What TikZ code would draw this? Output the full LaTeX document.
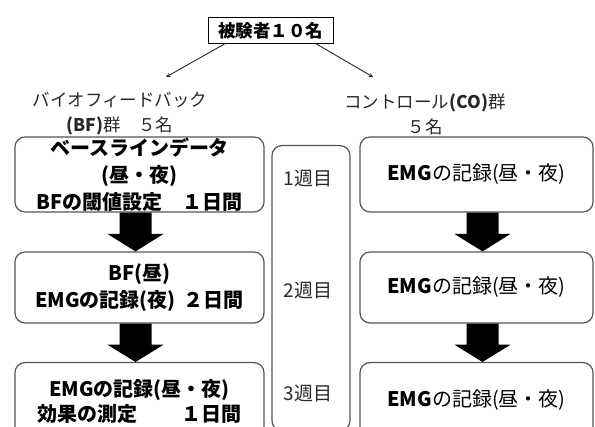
\documentclass[tikz,border=0pt]{standalone}
\usepackage{fontspec}
\setmainfont{Noto Sans CJK JP}
\usetikzlibrary{calc}
\definecolor{edge}{RGB}{85,85,85}
\definecolor{txt}{RGB}{40,40,40}
\tikzset{
  flowbox/.style={draw=edge, line width=1.2pt, rounded corners=10pt, align=center,
    inner sep=0pt, font=\fontsize{20}{27}\selectfont\bfseries, text=black},
  cobox/.style={draw=edge, line width=1.2pt, rounded corners=10pt, align=center,
    inner sep=0pt, font=\fontsize{20}{27}\selectfont, text=black},
  weekbox/.style={draw=edge, line width=1.2pt, rounded corners=10pt, inner sep=0pt},
  lbl/.style={font=\fontsize{17.5}{26}\selectfont, text=txt, align=center, inner sep=0pt},
  wk/.style={font=\fontsize{19}{22}\selectfont, text=txt, inner sep=0pt},
  topbox/.style={draw=black, line width=1pt, inner sep=0pt, minimum width=125pt, minimum height=26pt,
    font=\fontsize{17.5}{20}\selectfont\bfseries},
  thin/.style={-stealth, draw=txt, line width=0.9pt},
  blockarrow/.style={fill=black, draw=none}
}
\begin{document}
\begin{tikzpicture}[x=1pt,y=-1pt]
\useasboundingbox (0,0) rectangle (595,427);
\node[topbox] (top) at (270.5,30.5) {被験者１０名};
\coordinate (la) at (166,77);
\coordinate (ra) at (373,77);
\draw[thin] (top.south west)++(17,0) coordinate (tl) -- (la);
\draw[thin] (top.south east)++(-17,0) coordinate (tr) -- (ra);
\node[lbl] (bflbl) at (120,114) {バイオフィードバック\\[-1pt]\textbf{(BF)}群　５名};
\node[lbl] (colbl) at (425,114) {コントロール\textbf{(CO)}群\\[-1pt]５名};

% left column
\node[flowbox, minimum width=249pt, minimum height=75pt] (b1) at (139.5,174.5)
  {ベースラインデータ\\(昼・夜)\\BFの閾値設定　１日間};
\node[flowbox, minimum width=249pt, minimum height=71pt] (b2) at (139.5,287.5)
  {BF(昼)\\EMGの記録(夜)\hspace{0.4em}２日間};
\node[flowbox, minimum width=249pt, minimum height=80pt, anchor=north] (b3) at (139.5,362)
  {};
\node[font=\fontsize{20}{25}\selectfont\bfseries, align=center, inner sep=0pt] (b3t) at (139.5,401)
  {EMGの記録(昼・夜)\\効果の測定\hspace{2.2em}１日間};

% week column
\node[weekbox, minimum width=78pt, minimum height=285pt, anchor=north] (wk) at (311,145) {};
\node[wk] (w1) at (308,178) {1週目};
\node[wk] (w2) at (308,290) {2週目};
\node[wk] (w3) at (308,393) {3週目};

% right column
\node[cobox, minimum width=233pt, minimum height=75pt] (c1) at (476.5,174.5)
  {\raisebox{-8pt}{\textbf{EMG}の記録(昼・夜)}};
\node[cobox, minimum width=233pt, minimum height=71pt] (c2) at (476.5,287.5)
  {\raisebox{-2pt}{\textbf{EMG}の記録(昼・夜)}};
\node[cobox, minimum width=233pt, minimum height=80pt, anchor=north] (c3) at (476.5,362) {};
\node[font=\fontsize{20}{25}\selectfont, inner sep=0pt] (c3t) at (476.5,400) {\textbf{EMG}の記録(昼・夜)};

% block arrows
\foreach \a/\b/\dx in {b1/b2/-4, b2/b3/-4, c1/c2/6, c2/c3/6}{
  \fill[blockarrow] ($(\a.south)+(\dx-16,0)$) -- ($(\a.south)+(\dx+16,0)$)
    -- ($(\a.south)!0.55!(\b.north)+(\dx+16,0)$) -- ($(\a.south)!0.55!(\b.north)+(\dx+28,0)$)
    -- ($(\b.north)+(\dx,0)$)
    -- ($(\a.south)!0.55!(\b.north)+(\dx-28,0)$) -- ($(\a.south)!0.55!(\b.north)+(\dx-16,0)$) -- cycle;
}
\end{tikzpicture}
\end{document}
